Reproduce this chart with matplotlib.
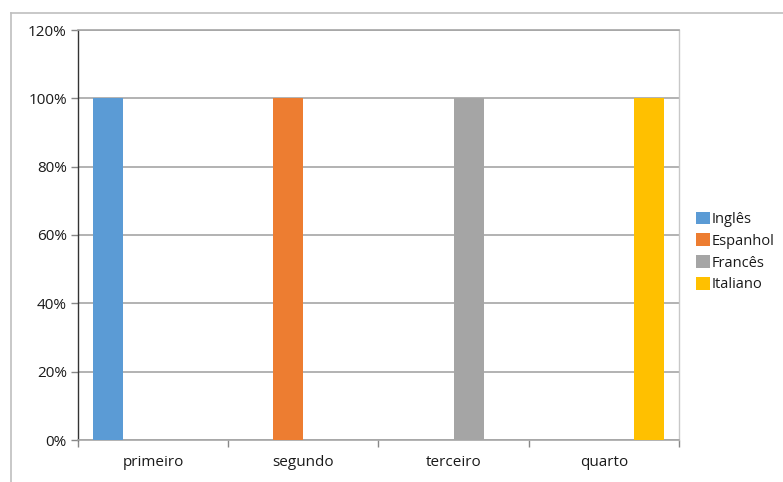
import matplotlib
matplotlib.use("Agg")
import matplotlib.pyplot as plt
import numpy as np
from matplotlib.lines import Line2D
from matplotlib.ticker import FuncFormatter

categories = ["primeiro", "segundo", "terceiro", "quarto"]
series_names = ["Inglês", "Espanhol", "Francês", "Italiano"]
ingles = [1.0, 0.0, 0.0, 0.0]
espanhol = [0.0, 1.0, 0.0, 0.0]
frances = [0.0, 0.0, 1.0, 0.0]
italiano = [0.0, 0.0, 0.0, 1.0]
series_values = [ingles, espanhol, frances, italiano]
colors = ["#5B9BD5", "#ED7D31", "#A5A5A5", "#FFC000"]
yticks = [0, 0.2, 0.4, 0.6, 0.8, 1.0, 1.2]

plt.rcParams['font.family'] = ['Open Sans', 'DejaVu Sans']

fig = plt.figure(figsize=(7.83, 4.82), dpi=100)
ax = fig.add_axes([78/783, 1-440/482, (679-78)/783, (440-30)/482])

x = np.arange(len(categories))
bw = 0.2
for i, (name, vals, c) in enumerate(zip(series_names, series_values, colors)):
    ax.bar(x + (i - 1.5) * bw, vals, width=bw, color=c, label=name, zorder=3)

ax.set_xlim(-0.5, len(categories) - 0.5)
ax.set_ylim(0, 1.2)
ax.set_yticks(yticks)
ax.yaxis.set_major_formatter(FuncFormatter(lambda v, p: f"{v*100:.0f}%"))
ax.grid(axis='y', color='#a6a6a6', linewidth=1.2, zorder=0)
ax.set_xticks(x)
ax.set_xticklabels(categories)
ax.set_xticks(np.arange(-0.5, len(categories)), minor=True)
ax.tick_params(axis='x', which='major', length=0, pad=11, labelsize=11, colors='#1a1a1a')
ax.tick_params(axis='x', which='minor', length=5, width=1, color='#888888')
ax.tick_params(axis='y', length=5, width=1, color='#888888', labelsize=11, labelcolor='#1a1a1a', pad=3)

ax.spines['left'].set_color('#333333')
ax.spines['left'].set_linewidth(1.0)
ax.spines['bottom'].set_color('#a6a6a6')
ax.spines['bottom'].set_linewidth(1.2)
ax.spines['right'].set_color('#c8c8c8')
ax.spines['right'].set_linewidth(1.0)
ax.spines['top'].set_color('#a6a6a6')
ax.spines['top'].set_linewidth(1.2)

leg = fig.legend(loc='center left', bbox_to_anchor=(696/783, 1-252/482), frameon=False,
                 fontsize=10.5, handlelength=0.95, handleheight=0.95, handletextpad=0.15,
                 labelspacing=0.45, borderaxespad=0, borderpad=0)
for t in leg.get_texts():
    t.set_color('#1a1a1a')

fig.add_artist(Line2D([11/783, 1], [1-12.5/482, 1-12.5/482], color='#bfbfbf', linewidth=1.2))
fig.add_artist(Line2D([11/783, 11/783], [0, 1-12.5/482], color='#bfbfbf', linewidth=1.2))

fig.savefig("out.png", dpi=100)
